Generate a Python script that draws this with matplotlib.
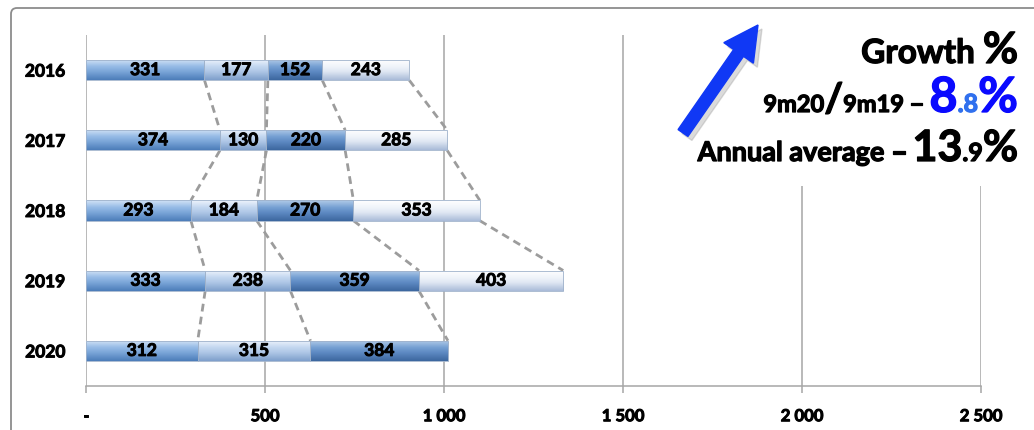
import matplotlib
matplotlib.use("Agg")
import matplotlib.pyplot as plt
import matplotlib.patheffects as pe
import numpy as np
from matplotlib.colors import LinearSegmentedColormap
from matplotlib.patches import FancyArrow, Rectangle, FancyBboxPatch
from matplotlib.transforms import IdentityTransform

plt.rcParams['font.family'] = ['Lato', 'DejaVu Sans']

# --- DATOS ---
anios = ["2016", "2017", "2018", "2019", "2020"]
serie_1 = [331, 374, 293, 333, 312]
serie_2 = [177, 130, 184, 238, 315]
serie_3 = [152, 220, 270, 359, 384]
serie_4 = [243, 285, 353, 403, 0]   # 2020 sin cuarto tramo
ticks_x = [0, 500, 1000, 1500, 2000, 2500]
etiquetas_x = ["-", "500", "1 000", "1 500", "2 000", "2 500"]

# degradado (arriba -> abajo) de cada serie
degradados = [
    ["#d3e3f6", "#96bbe6", "#7aa5d8", "#4c7db9"],
    ["#eef4fc", "#c3d7f0", "#aec6e6", "#7e9fcb"],
    ["#b2cbe9", "#76a0d3", "#5d89c2", "#3c679f"],
    ["#ffffff", "#f0f4fa", "#dfe7f3", "#a9bbd8"],
]


def negrita(color, ancho=0.7):
    # engrosa un poco el trazo de la fuente
    return [pe.withStroke(linewidth=ancho, foreground=color)]


W, H = 1034, 430
fig = plt.figure(figsize=(W / 100, H / 100), dpi=100)
ax = fig.add_axes([86 / W, (H - 386) / H, (981 - 86) / W, 351 / H])

series = [serie_1, serie_2, serie_3, serie_4]
n = len(anios)
pos_y = np.arange(n)[::-1]          # 2016 arriba
alto = 0.29
gris = "#a6a6a6"

acumulado = np.zeros(n)
fines = []
for k, valores in enumerate(series):
    valores = np.array(valores, dtype=float)
    barras = ax.barh(pos_y, valores, height=alto, left=acumulado,
                     facecolor="none", edgecolor="#9fb2cb", linewidth=0.6, zorder=4)
    cmap = LinearSegmentedColormap.from_list(f"s{k}", list(zip([0, 0.35, 0.6, 1], degradados[k])))
    grad = np.linspace(0, 1, 64).reshape(-1, 1)
    for i, bar in enumerate(barras):
        if valores[i] <= 0:
            continue
        x0 = acumulado[i]
        im = ax.imshow(grad, cmap=cmap, aspect="auto", interpolation="bilinear",
                       extent=(x0, x0 + valores[i], pos_y[i] - alto / 2, pos_y[i] + alto / 2),
                       origin="upper", zorder=3)
        im.set_clip_path(bar)
        ax.text(x0 + valores[i] / 2, pos_y[i], f"{int(valores[i])}", ha="center", va="center",
                fontsize=12.5, fontweight="bold", color="black", zorder=5,
                path_effects=negrita("black"))
    acumulado = acumulado + valores
    fines.append((acumulado.copy(), valores.copy()))

# lineas de serie entre años consecutivos
for fin, valores in fines:
    for i in range(n - 1):
        if valores[i] <= 0 or valores[i + 1] <= 0:
            continue
        ax.plot([fin[i], fin[i + 1]], [pos_y[i] - alto / 2, pos_y[i + 1] + alto / 2],
                color="#9c9c9c", linewidth=2.0, linestyle=(0, (2.8, 1.9)), zorder=2)

ax.set_xlim(0, 2500)
ax.set_ylim(-0.5, n - 0.5)
ax.set_xticks(ticks_x)
ax.set_xticklabels(etiquetas_x, fontsize=12, fontweight="bold")
ax.set_yticks(pos_y)
ax.set_yticklabels(anios, fontsize=12.5, fontweight="bold")
for t in ax.get_xticklabels() + ax.get_yticklabels():
    t.set_path_effects(negrita("black"))
ax.tick_params(axis="y", length=0, pad=15)
ax.tick_params(axis="x", length=5, width=1.1, color=gris, pad=11)
ax.grid(axis="x", color=gris, linewidth=1.1)
ax.set_axisbelow(True)
for lado in ["top", "right", "left"]:
    ax.spines[lado].set_visible(False)
ax.spines["bottom"].set_color(gris)
ax.spines["bottom"].set_linewidth(1.1)

# marco exterior
fig.patches.append(FancyBboxPatch((11, -40), 1100, H - 8 + 40, boxstyle="round,pad=0,rounding_size=6",
                                  facecolor="none", edgecolor="#8c8c8c", linewidth=1.3,
                                  transform=IdentityTransform(), zorder=1))
# caja blanca del texto de crecimiento
fig.patches.append(Rectangle((640, H - 186), 385, 186 - 10, facecolor="white", edgecolor="none",
                             transform=IdentityTransform(), zorder=1))

# flecha azul con sombra
fig.patches.append(FancyArrow(687, H - 137, 75, 108, width=12, head_width=36, head_length=34,
                              length_includes_head=True, color="#9a9a9a", alpha=0.35,
                              transform=IdentityTransform(), zorder=2))
fig.patches.append(FancyArrow(683, H - 133, 75, 108, width=12, head_width=36, head_length=34,
                              length_includes_head=True, color="#1038f5",
                              transform=IdentityTransform(), zorder=2))

renderer = fig.canvas.get_renderer()


def escribir_linea(x_der, y_base, piezas):
    x = x_der
    for texto, tam, color in reversed(piezas):
        t = fig.text(x, y_base, texto, fontsize=tam, color=color, fontweight="bold",
                     ha="right", va="baseline", transform=IdentityTransform(), zorder=3,
                     path_effects=negrita(color, 0.9))
        x -= t.get_window_extent(renderer).width


escribir_linea(1018, H - 63, [("Growth ", 24, "black"), ("%", 31, "black")])
escribir_linea(1018, H - 112, [("9m20", 17, "black"), ("/", 29, "black"), ("9m19 ", 17, "black"),
                               ("\u2212 ", 17, "black"), ("8", 35, "#0a0aff"),
                               (".8", 18, "#3070ee"), ("%", 35, "#0a0aff")])
escribir_linea(1018, H - 161, [("Annual average ", 19.5, "black"), ("\u2212 ", 18.5, "black"),
                               ("13", 31, "black"), (".9", 18, "black"), ("%", 31, "black")])

fig.savefig("out.png", dpi=100)
